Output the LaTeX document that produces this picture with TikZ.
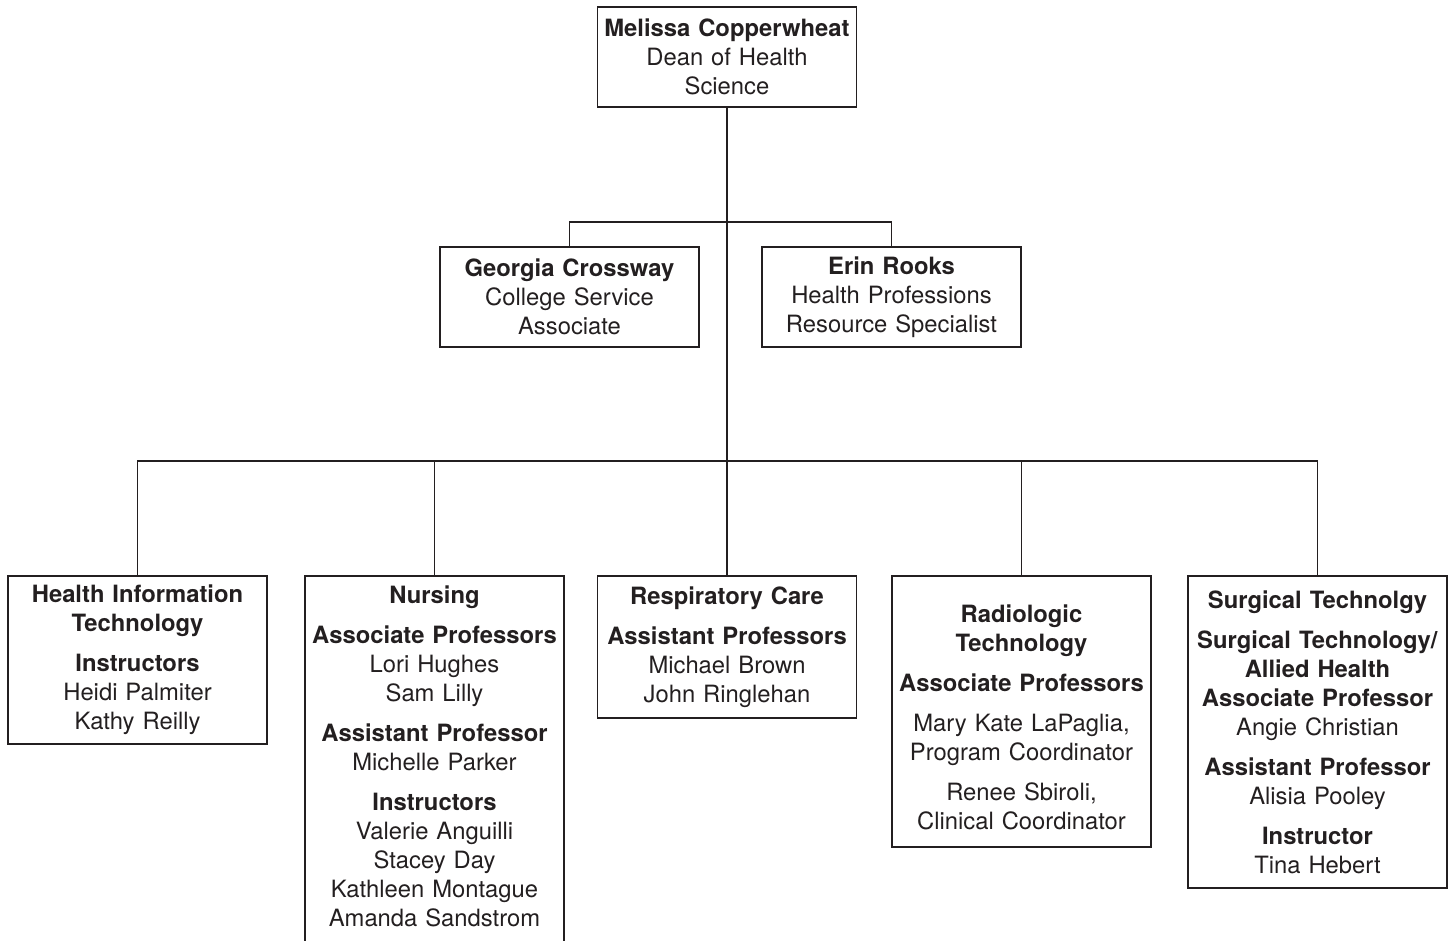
\documentclass[tikz,border=0pt]{standalone}
\usepackage{fontspec}
\setmainfont{TeX Gyre Heros}
\usepackage{tikz}

\definecolor{inkgray}{RGB}{35,31,32}

\begin{document}
\begin{tikzpicture}[x=1pt,y=-1pt,
	box/.style={draw=inkgray,text=inkgray,line width=1.4pt,minimum width=259pt,text width=259pt,inner xsep=0pt,inner ysep=4pt,align=center,font=\fontsize{23.8}{29}\selectfont},
	link/.style={draw=inkgray,line width=1.3pt}]
	\useasboundingbox (0,0) rectangle (1453,940);
	
	%TOP
	\node[box,minimum height=100pt] (dean) at (727,57) {\textbf{Melissa Copperwheat}\\Dean of Health\\Science};
	\node[box,minimum height=100pt] (georgia) at (569.5,297) {\textbf{Georgia Crossway}\\College Service\\Associate};
	\node[box,minimum height=100pt] (erin) at (891.5,297) {\textbf{Erin Rooks}\\Health Professions\\Resource Specialist};
	
	%PROGRAMS
	\node[box,minimum height=168pt] (hit) at (137.5,660) {\textbf{Health Information}\\\textbf{Technology}\\[11pt]\textbf{Instructors}\\Heidi Palmiter\\Kathy Reilly};
	\node[box,minimum height=380pt] (nurs) at (434.5,766) {\textbf{Nursing}\\[11pt]\textbf{Associate Professors}\\Lori Hughes\\Sam Lilly\\[11pt]\textbf{Assistant Professor}\\Michelle Parker\\[11pt]\textbf{Instructors}\\Valerie Anguilli\\Stacey Day\\Kathleen Montague\\Amanda Sandstrom\rule[-20pt]{0pt}{0pt}};
	\node[box,minimum height=142pt] (resp) at (727,647) {\textbf{Respiratory Care}\\[11pt]\textbf{Assistant Professors}\\Michael Brown\\John Ringlehan};
	\node[box,minimum height=271pt] (radio) at (1021.5,711.5) {\rule{0pt}{28.7pt}\textbf{Radiologic}\\\textbf{Technology}\\[11pt]\textbf{Associate Professors}\\[11pt]Mary Kate LaPaglia,\\Program Coordinator\\[11pt]Renee Sbiroli,\\Clinical Coordinator};
	\node[box,minimum height=312pt] (surg) at (1317.5,732) {\textbf{Surgical Technolgy}\\[11pt]\textbf{Surgical Technology/}\\\textbf{Allied Health}\\\textbf{Associate Professor}\\Angie Christian\\[11pt]\textbf{Assistant Professor}\\Alisia Pooley\\[11pt]\textbf{Instructor}\\Tina Hebert};
	
	%LINES
	\coordinate (upbus) at (727,222);
	\coordinate (lowbus) at (727,461);
	\draw[link] (dean.south) -- (resp.north);
	\draw[link] (georgia.north) |- (upbus) -| (erin.north);
	\draw[link] (hit.north) |- (lowbus) -| (surg.north);
	\draw[link] (nurs.north) -- (nurs.north |- lowbus);
	\draw[link] (radio.north) -- (radio.north |- lowbus);
\end{tikzpicture}
\end{document}
